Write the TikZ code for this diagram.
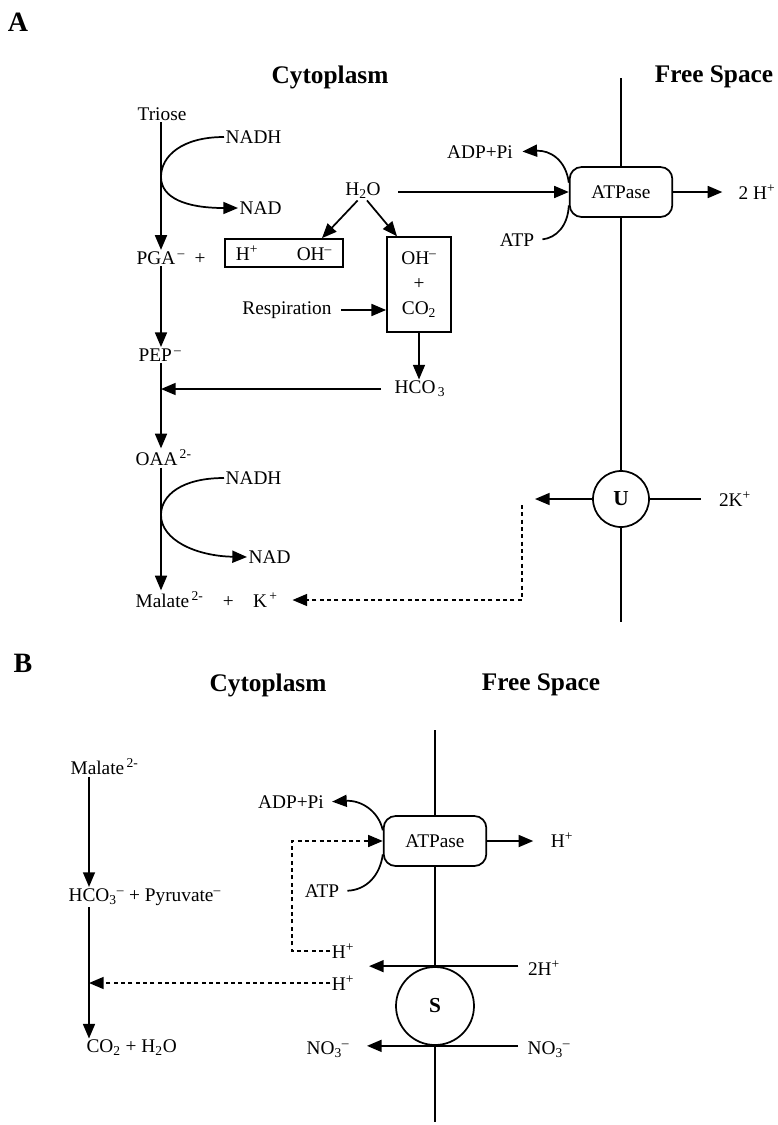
\documentclass[tikz,border=0pt]{standalone}
\usepackage{fontspec}
\setmainfont{Liberation Serif}
\usetikzlibrary{arrows.meta,calc}
\begin{document}
\begin{tikzpicture}[x=0.75pt,y=-0.75pt,
  lbl/.style={font=\fontsize{14.5}{19}\selectfont, inner sep=1pt},
  hd/.style={font=\fontsize{19}{22}\selectfont\bfseries, inner sep=1pt},
  ttl/.style={font=\fontsize{21}{24}\selectfont\bfseries, inner sep=1pt},
  ln/.style={line width=1.3pt},
  arr/.style={ln, -{Triangle[length=11pt,width=9pt]}},
  darr/.style={line width=1.2pt, dash pattern=on 3pt off 2.5pt, -{Triangle[length=11pt,width=9pt]}},
  boxn/.style={draw, line width=1.3pt, font=\fontsize{14.5}{19}\selectfont, inner sep=1pt},
  atpbox/.style={draw, line width=1.3pt, rounded corners=9pt, minimum width=77pt, minimum height=37.5pt, font=\fontsize{14.5}{19}\selectfont},
  circ/.style={draw, circle, line width=1.3pt, font=\fontsize{16}{19}\selectfont\bfseries}
]
\useasboundingbox (0,0) rectangle (778,1125);

% ================= Part A =================
\node[ttl] (A) at (18,22) {A};
\node[hd] (cytA) at (330,77) {Cytoplasm};
\node[hd] (freeA) at (714,77) {Free Space};

\coordinate (colA) at (161,0);
\node[lbl] (triose) at (162,114) {Triose};
\node[lbl,anchor=west] (nadh1) at (224,137) {NADH};
\node[lbl,anchor=west] (nad1) at (238,208) {NAD};
\node[lbl] (h2oA) at (363,191) {H\textsubscript{2}O};
\node[lbl,anchor=west] (pga) at (135,258) {PGA\textsuperscript{\,--}\enspace+};
\node[boxn, minimum width=88.5pt, minimum height=21pt] (hoh) at (284,253) {H\textsuperscript{+}\qquad OH\textsuperscript{--}};
\node[boxn, minimum width=48pt, minimum height=71pt, align=center] (ohco) at (419,284.5) {OH\textsuperscript{--}\\+\\CO\textsubscript{2}};
\node[lbl] (resp) at (287,310) {Respiration};
\node[lbl] (hco3A) at (420,389) {HCO\textsubscript{\,3}};
\node[lbl,anchor=west] (pep) at (137,355) {PEP\textsuperscript{\,--}};
\node[lbl,anchor=west] (oaa) at (134,458) {OAA\textsuperscript{\,2-}};
\node[lbl,anchor=west] (nadh2) at (224,478) {NADH};
\node[lbl,anchor=west] (nad2) at (247,557) {NAD};
\node[lbl,anchor=west] (mal) at (134,600) {Malate\textsuperscript{\,2-}\quad+\quad K\textsuperscript{\,+}};

\node[atpbox] (atpA) at (621,192) {ATPase};
\node[circ, minimum size=42pt] (U) at (621,499) {U};
\node[lbl] (adpA) at (480,152) {ADP+Pi};
\node[lbl] (atpLA) at (517,240) {ATP};
\node[lbl,anchor=west] (h2A) at (737,192) {2 H\textsuperscript{+}};
\node[lbl] (k2) at (735,499) {2K\textsuperscript{+}};

\coordinate (mAt) at (621,78);
\coordinate (mAb) at (621,622);
\coordinate (uL) at (535,499);
\coordinate (dA) at (522,505);

% membrane A
\draw[ln] (mAt) -- (atpA.north);
\draw[ln] (atpA.south) -- (U.north);
\draw[ln] (U.south) -- (mAb);

% main chain A
\draw[arr] (triose.south -| colA) -- (pga.north -| colA);
\draw[arr] (pga.south -| colA) -- (pep.north -| colA);
\draw[arr] (pep.south -| colA) -- (oaa.north -| colA);
\draw[arr] (oaa.south -| colA) -- (mal.north -| colA);

\draw[arr] (nadh1.west) .. controls (182,137) and (161,156) .. (161,177)
  .. controls (161,198) and (186,208) .. (nad1.west);
\draw[arr] (nadh2.west) .. controls (182,478) and (161,495) .. (161,515)
  .. controls (161,540) and (196,556) .. (nad2.west);

\draw[arr] ([xshift=-4pt]h2oA.south) -- ([xshift=28.5pt]hoh.north);
\draw[arr] ([xshift=3pt]h2oA.south) -- ([xshift=-16.5pt]ohco.north);
\draw[arr, shorten <=12pt] (atpA.west -| h2oA.east) -- (atpA.west);
\draw[arr, shorten <=6pt] (resp.east) -- (resp.east -| ohco.west);
\draw[arr] (ohco.south) -- (ohco.south |- hco3A.north);
\draw[arr, shorten <=9pt] (hco3A.west) -- (hco3A.west -| colA);

\draw[arr, shorten >=6pt] ([yshift=7pt]atpA.west) .. controls (566,160) and (550,150) .. (adpA.east);
\draw[ln, shorten <=5pt] (atpLA.east) .. controls (556,238) and (568,226) .. ([yshift=-10pt]atpA.west);
\draw[arr, shorten >=11pt] (atpA.east) -- (atpA.east -| h2A.west);

\draw[arr] (U.west) -- (uL);
\draw[ln, shorten >=12pt] (U.east) -- (U.east -| k2.west);
\draw[darr, shorten >=10pt] (dA) |- (mal.east);

% ================= Part B =================
\node[ttl] (B) at (23,663) {B};
\node[hd] (cytB) at (268,685) {Cytoplasm};
\node[hd] (freeB) at (541,685) {Free Space};

\coordinate (colB) at (89,0);
\node[lbl,anchor=west] (malB) at (69,767) {Malate\textsuperscript{\,2-}};
\node[lbl,anchor=west] (hcopyr) at (67,897) {HCO\textsubscript{3}\textsuperscript{--} + Pyruvate\textsuperscript{--}};
\node[lbl,anchor=west] (co2h2o) at (85,1048) {CO\textsubscript{2} + H\textsubscript{2}O};

\draw[arr] (malB.south -| colB) -- (hcopyr.north -| colB);
\draw[arr] (hcopyr.south -| colB) -- (co2h2o.north -| colB);

\node[atpbox] (atpB) at (435,841) {ATPase};
\node[circ, minimum size=58.5pt] (S) at (435,1006) {S};
\node[lbl] (adpB) at (291,802) {ADP+Pi};
\node[lbl] (atpLB) at (322,891) {ATP};
\node[lbl] (hB1) at (343,951) {H\textsuperscript{+}};
\node[lbl] (hB2) at (343,983) {H\textsuperscript{+}};
\node[lbl] (hB3) at (562,840) {H\textsuperscript{+}};
\node[lbl] (h2B) at (544,968) {2H\textsuperscript{+}};
\node[lbl] (no3R) at (549,1050) {NO\textsubscript{3}\textsuperscript{--}};
\node[lbl] (no3L) at (328,1050) {NO\textsubscript{3}\textsuperscript{--}};

\coordinate (mBt) at (435,730);
\coordinate (mBb) at (435,1122);
\coordinate (dB) at (292,900);

% membrane B
\draw[ln] (mBt) -- (atpB.north);
\draw[ln] (atpB.south) -- (S.north);
\draw[ln] (S.south) -- (mBb);

\draw[arr, shorten >=5pt] ([yshift=8pt]atpB.west) .. controls (379,812) and (362,800) .. (adpB.east);
\draw[ln, shorten <=5pt] (atpLB.east) .. controls (366,890) and (380,876) .. ([yshift=-10pt]atpB.west);
\draw[arr, shorten >=12pt] (atpB.east) -- (atpB.east -| hB3.west);

\draw[darr] (hB1.west) -| (dB) |- (atpB.west);
\draw[darr] (hB2.west) -- (hB2.west -| colB);

\draw[arr, shorten <=6pt, shorten >=10pt] (h2B.west |- S.north) -- (hB2.east |- S.north);
\draw[arr, shorten <=6pt, shorten >=12pt] (no3R.west |- S.south) -- (no3L.east |- S.south);
\end{tikzpicture}
\end{document}
